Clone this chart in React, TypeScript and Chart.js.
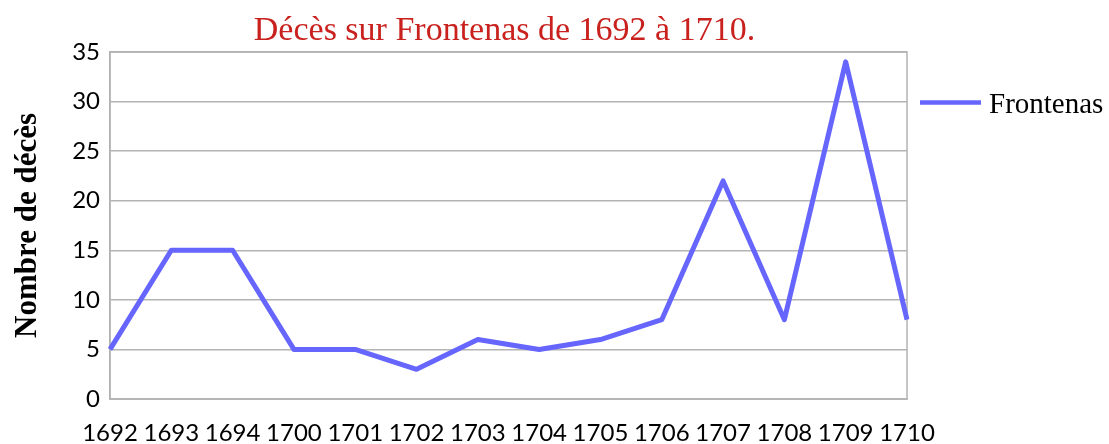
import React, { useEffect, useRef } from "react";
import { Chart, registerables } from "chart.js";

Chart.register(...registerables);

const categories = ["1692", "1693", "1694", "1700", "1701", "1702", "1703", "1704", "1705", "1706", "1707", "1708", "1709", "1710"];
const deaths = [5, 15, 15, 5, 5, 3, 6, 5, 6, 8, 22, 8, 34, 8];
const seriesName = "Frontenas";
const chartTitle = "Décès sur Frontenas de 1692 à 1710.";
const yAxisTitle = "Nombre de décès";

const GRID = "#b3b3b3";
const LINE = "#6666ff";

const decorPlugin = {
  id: "decor",
  beforeDatasetsDraw(chart: any) {
    const { ctx, chartArea } = chart;
    ctx.save();
    ctx.strokeStyle = GRID;
    ctx.lineWidth = 1.5;
    ctx.strokeRect(chartArea.left, chartArea.top, chartArea.right - chartArea.left, chartArea.bottom - chartArea.top);
    ctx.restore();
  },
  afterDraw(chart: any) {
    const { ctx, chartArea } = chart;
    ctx.save();
    // title
    ctx.fillStyle = "#c9211e";
    ctx.font = '34px "Liberation Serif"';
    ctx.textAlign = "center";
    ctx.textBaseline = "alphabetic";
    ctx.fillText(chartTitle, (chartArea.left + chartArea.right) / 2 - 4, 40);
    // legend
    const ds = chart.data.datasets[0];
    const ly = 102.5;
    ctx.strokeStyle = ds.borderColor;
    ctx.lineWidth = 4.5;
    ctx.beginPath();
    ctx.moveTo(chartArea.right + 13, ly);
    ctx.lineTo(chartArea.right + 74, ly);
    ctx.stroke();
    ctx.fillStyle = "#000";
    ctx.font = '29px "Liberation Serif"';
    ctx.textAlign = "left";
    ctx.textBaseline = "alphabetic";
    ctx.fillText(ds.label, chartArea.right + 82, 113);
    ctx.restore();
  },
};

export default function App() {
  const ref = useRef<HTMLCanvasElement>(null);
  useEffect(() => {
    document.body.style.margin = "0";
    document.body.style.overflow = "hidden";
    const chart = new Chart(ref.current!, {
      type: "line",
      data: {
        labels: categories,
        datasets: [
          {
            label: seriesName,
            data: deaths,
            borderColor: LINE,
            backgroundColor: LINE,
            borderWidth: 5,
            pointRadius: 0,
            tension: 0,
            borderJoinStyle: "round",
            borderCapStyle: "butt",
          },
        ],
      },
      options: {
        animation: false,
        responsive: false,
        layout: { padding: { top: 52, right: 202, left: 0, bottom: 0 } },
        plugins: { legend: { display: false }, title: { display: false }, tooltip: { enabled: false } },
        scales: {
          x: {
            offset: false,
            grid: { display: false, drawTicks: false },
            border: { display: true, color: GRID, width: 1.5 },
            ticks: { color: "#000", font: { family: "Lato", size: 24 }, padding: 20, maxRotation: 0, autoSkip: false },
            afterFit(scale: any) {
              scale.height = 45;
            },
          },
          y: {
            min: 0,
            max: 35,
            grid: { color: GRID, lineWidth: 1.5, drawTicks: false },
            border: { display: true, color: GRID, width: 1.5 },
            ticks: { stepSize: 5, color: "#000", font: { family: "Lato", size: 24 }, padding: 10 },
            title: {
              display: true,
              text: yAxisTitle,
              color: "#000",
              font: { family: "Liberation Serif", size: 31, weight: "bold" },
              padding: { top: 9, bottom: 0 },
            },
            afterFit(scale: any) {
              scale.width = 110;
            },
          },
        },
      },
      plugins: [decorPlugin],
    });
    return () => chart.destroy();
  }, []);
  return (
    <div style={{ width: 1109, height: 444 }}>
      <canvas ref={ref} width={1109} height={444} style={{ display: "block" }} />
    </div>
  );
}
